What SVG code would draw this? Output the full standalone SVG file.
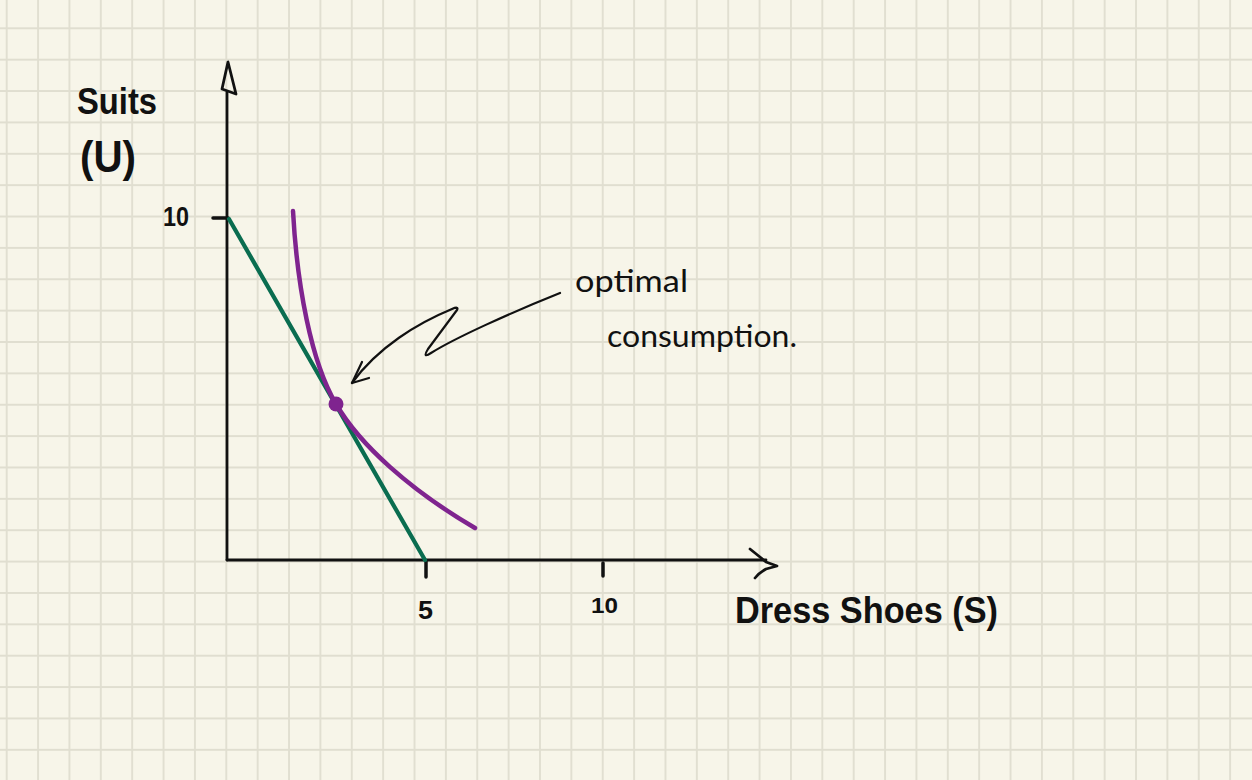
<svg xmlns="http://www.w3.org/2000/svg" width="1252" height="780" viewBox="0 0 1252 780">
  <defs>
    <pattern id="grid" x="-8.985" y="12.615" width="31.37" height="31.37" patternUnits="userSpaceOnUse">
      <path d="M15.685,0 V31.37 M0,15.685 H31.37" fill="none" stroke="#e0ded0" stroke-width="1.8"/>
    </pattern>
  </defs>
  <style>
    .axis { fill: none; stroke: #111; stroke-width: 2.8; stroke-linecap: round; stroke-linejoin: round; }
    .tick { fill: none; stroke: #111; stroke-width: 3.5; stroke-linecap: round; }
    .bold { font-family: "Liberation Sans", Arial, sans-serif; font-weight: bold; fill: #111; }
    .hand { font-family: "Lato", "Liberation Sans", sans-serif; font-weight: 400; fill: #111; }
    .budget { fill: none; stroke: #0a6d50; stroke-width: 4.2; stroke-linecap: round; }
    .indiff { fill: none; stroke: #7f248f; stroke-width: 4.5; stroke-linecap: round; }
    .note { fill: none; stroke: #111; stroke-width: 2.2; stroke-linecap: round; stroke-linejoin: round; }
  </style>

  <rect x="0" y="0" width="1252" height="780" fill="#f7f5e9"/>
  <rect x="0" y="0" width="1252" height="780" fill="url(#grid)"/>

  <g id="axes">
    <path class="axis" d="M227,560 V92"/>
    <path class="axis" d="M228,62 L222,89 L236,94 Z"/>
    <path class="axis" d="M227,560 H766"/>
    <path class="axis" d="M750,549 Q760,557 766,562 L777,566 L766,569 Q759,573 755,578"/>
    <path class="tick" d="M213,218 H228"/>
    <path class="tick" d="M426,561 V577"/>
    <path class="tick" d="M603,563 V576"/>
  </g>

  <g id="labels">
    <text class="bold" x="77" y="114" font-size="36" textLength="80" lengthAdjust="spacingAndGlyphs">Suits</text>
    <text class="bold" x="80" y="172" font-size="44" textLength="56" lengthAdjust="spacingAndGlyphs">(U)</text>
    <text class="bold" x="163" y="226" font-size="28" textLength="26" lengthAdjust="spacingAndGlyphs">10</text>
    <text class="bold" x="418" y="619" font-size="25" textLength="15" lengthAdjust="spacingAndGlyphs">5</text>
    <text class="bold" x="591" y="613" font-size="22" textLength="27" lengthAdjust="spacingAndGlyphs">10</text>
    <text class="bold" x="735" y="623" font-size="36" textLength="263" lengthAdjust="spacingAndGlyphs">Dress Shoes (S)</text>
  </g>

  <g id="budget-line">
    <path class="budget" d="M229,219 L425,560"/>
  </g>

  <g id="indifference-curve">
    <path class="indiff" d="M293,211 C297,285 311,362 336,404 C360,445 410,490 475,528"/>
    <circle cx="336" cy="404" r="7.5" fill="#7f248f"/>
  </g>

  <g id="connectors">
    <path class="note" d="M560,293 C510,313 455,338 431,353 Q422,359 428,349 L457,310 Q459,306 452,309 C418,323 378,347 352,383"/>
    <path class="note" d="M362,362 L352,383 L369,378"/>
  </g>

  <g id="annotation">
    <text class="hand" x="575" y="292" font-size="30" textLength="113" lengthAdjust="spacingAndGlyphs">optimal</text>
    <text class="hand" x="607" y="347" font-size="30" textLength="190" lengthAdjust="spacingAndGlyphs">consumption.</text>
  </g>
</svg>
